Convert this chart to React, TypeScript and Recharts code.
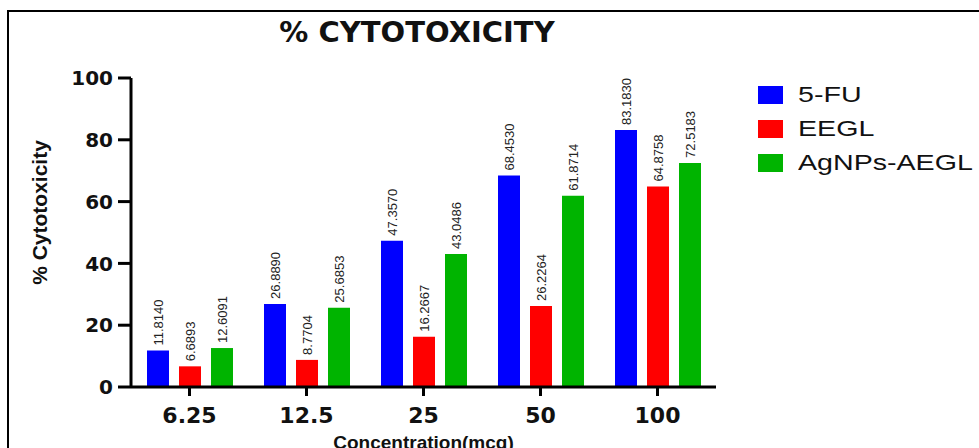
import React from 'react';
import { BarChart, Bar, XAxis, YAxis, Legend, LabelList } from 'recharts';

const concentrations = ['6.25', '12.5', '25', '50', '100'];
const fu5 = [11.814, 26.889, 47.357, 68.453, 83.183];
const eegl = [6.6893, 8.7704, 16.2667, 26.2264, 64.8758];
const agnps = [12.6091, 25.6853, 43.0486, 61.8714, 72.5183];
const yTicks = [0, 20, 40, 60, 80, 100];

const series = [
  { key: 'fu5', name: '5-FU', color: '#0000ff', values: fu5 },
  { key: 'eegl', name: 'EEGL', color: '#ff0000', values: eegl },
  { key: 'agnps', name: 'AgNPs-AEGL', color: '#00b400', values: agnps },
];

const data = concentrations.map((c, i) => {
  const row: any = { conc: c };
  series.forEach((s) => {
    row[s.key] = s.values[i];
  });
  return row;
});

const BOLD = '"DejaVu Sans", sans-serif';
const ARIAL = '"Liberation Sans", Arial, sans-serif';

// rotated value label sitting on top of each bar
const ValueLabel = (props: any) => {
  const { x, y, width, value } = props;
  const cx = x + width / 2;
  const cy = y - 5;
  return (
    <text
      x={cx}
      y={cy}
      dy='0.35em'
      transform={`rotate(-90 ${cx} ${cy})`}
      textAnchor='start'
      fontSize={13}
      fontFamily={ARIAL}
      fill='#222'
    >
      {Number(value).toFixed(4)}
    </text>
  );
};

// legend keeps the series order (5-FU, EEGL, AgNPs-AEGL)
const LegendBox = () => {
  return (
    <div style={{ display: 'flex', flexDirection: 'column' }}>
      {series.map((s) => (
        <div
          key={s.key}
          style={{ height: 34, display: 'flex', alignItems: 'center' }}
        >
          <div
            style={{ width: 25, height: 18, background: s.color, marginRight: 15 }}
          />
          <span
            style={{
              display: 'inline-block',
              fontFamily: ARIAL,
              fontSize: 22,
              color: '#111',
              transform: 'scaleX(1.3)',
              transformOrigin: 'left center',
              whiteSpace: 'nowrap',
            }}
          >
            {s.name}
          </span>
        </div>
      ))}
    </div>
  );
};

const YLabel = (props: any) => {
  const { viewBox } = props;
  const x = viewBox.x - 32;
  const y = viewBox.y + viewBox.height / 2 - 20;
  return (
    <text
      x={x}
      y={y}
      transform={`rotate(-90 ${x} ${y})`}
      textAnchor='middle'
      dominantBaseline='central'
      fontSize={21}
      fontWeight='bold'
      fontFamily={ARIAL}
      fill='#111'
    >
      % Cytotoxicity
    </text>
  );
};

const XLabel = (props: any) => {
  const { viewBox } = props;
  return (
    <text
      x={viewBox.x + viewBox.width / 2}
      y={viewBox.y + viewBox.height + 22}
      textAnchor='middle'
      fontSize={19}
      fontWeight='bold'
      fontFamily={ARIAL}
      fill='#111'
    >
      Concentration(mcg)
    </text>
  );
};

const App = () => {
  return (
    <div
      style={{
        position: 'absolute',
        left: 0,
        top: 0,
        width: 979,
        height: 448,
        overflow: 'hidden',
        background: '#fff',
      }}
    >
      {/* frame */}
      <div
        style={{
          position: 'absolute',
          left: 7,
          top: 10,
          width: 1100,
          height: 600,
          borderTop: '2px solid #000',
          borderLeft: '2px solid #000',
        }}
      />
      <svg
        width={979}
        height={448}
        style={{ position: 'absolute', left: 0, top: 0 }}
      >
        <text
          x={417}
          y={42}
          textAnchor='middle'
          fontSize={29}
          fontWeight='bold'
          fontFamily={BOLD}
          fill='#111'
        >
          % CYTOTOXICITY
        </text>
      </svg>
      <div style={{ position: 'absolute', left: 0, top: 0 }}>
        <BarChart
          width={979}
          height={448}
          data={data}
          margin={{ top: 78, right: 263, bottom: 21, left: 71 }}
          barCategoryGap={16}
          barGap={10}
        >
          <XAxis
            dataKey='conc'
            height={40}
            stroke='#000'
            strokeWidth={3}
            tickSize={9}
            tickMargin={11}
            tick={{ fontSize: 22, fontWeight: 'bold', fontFamily: BOLD, fill: '#111' }}
            label={<XLabel />}
          />
          <YAxis
            width={60}
            domain={[0, 100]}
            ticks={yTicks}
            stroke='#000'
            strokeWidth={3}
            tickSize={13}
            tickMargin={5}
            tick={{ fontSize: 20, fontWeight: 'bold', fontFamily: BOLD, fill: '#111' }}
            label={<YLabel />}
          />
          <Legend
            layout='vertical'
            align='center'
            verticalAlign='middle'
            wrapperStyle={{ left: 758, top: 78, width: 220 }}
            content={<LegendBox />}
          />
          {series.map((s) => (
            <Bar
              key={s.key}
              dataKey={s.key}
              name={s.name}
              fill={s.color}
              isAnimationActive={false}
            >
              <LabelList dataKey={s.key} content={<ValueLabel />} />
            </Bar>
          ))}
        </BarChart>
      </div>
    </div>
  );
};

export default App;
